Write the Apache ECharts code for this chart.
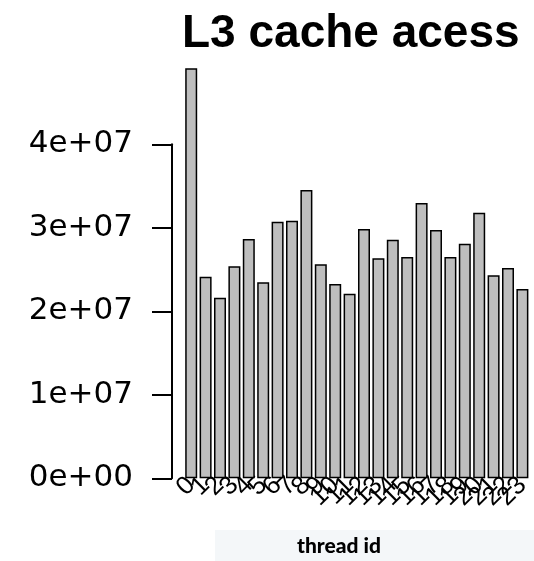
<!DOCTYPE html>
<html>
<head>
<meta charset="utf-8">
<script src="https://cdn.jsdelivr.net/npm/echarts@6/dist/echarts.min.js"></script>
<style>
  html, body { margin: 0; padding: 0; background: #ffffff; }
  #chart { width: 534px; height: 561px; }
</style>
</head>
<body>
<div id="chart"></div>
<script>
// Thread ids on the x axis
const threadIds = ['0','1','2','3','4','5','6','7','8','9','10','11','12','13','14','15','16','17','18','19','20','21','22','23'];
// L3 cache accesses per thread
const accesses = [49100000, 24140000, 21630000, 25390000, 28660000, 23470000, 30730000, 30850000,
                  34530000, 25630000, 23270000, 22110000, 29860000, 26350000, 28570000, 26500000,
                  32970000, 29740000, 26500000, 28100000, 31810000, 24310000, 25190000, 22670000];
// Value axis range and step
const yMin = 0;
const yMax = 40000000;
const yStep = 10000000;

// R-style scientific labels: 4e+07, 0e+00
function sci(v) {
  if (v === 0) return '0e+00';
  const e = Math.floor(Math.log10(v));
  const m = Math.round(v / Math.pow(10, e));
  return m + 'e+' + String(e).padStart(2, '0');
}

const chart = echarts.init(document.getElementById('chart'), null, { renderer: 'canvas' });
chart.setOption({
  animation: false,
  backgroundColor: '#ffffff',
  title: [
    {
      text: 'L3 cache acess',
      left: 177,
      top: 6,
      textStyle: { fontFamily: 'Liberation Sans', fontWeight: 'bold', fontSize: 46, color: '#000' }
    },
    {
      text: 'thread id',
      left: 215,
      top: 530,
      padding: [6, 160, 12, 82],
      backgroundColor: '#f4f7f9',
      textStyle: { fontFamily: 'Lato', fontWeight: 900, fontSize: 21, color: '#000' }
    }
  ],
  grid: { left: 184, right: 4.4, top: 144.3, bottom: 82.7, containLabel: false },
  xAxis: {
    type: 'category',
    data: threadIds,
    axisLine: { show: false },
    axisTick: { show: false },
    axisLabel: {
      interval: 0,
      rotate: 45,
      margin: 3,
      fontFamily: 'Liberation Sans',
      fontSize: 26,
      color: '#000'
    }
  },
  yAxis: {
    type: 'value',
    min: yMin,
    max: yMax,
    interval: yStep,
    offset: 12,
    splitLine: { show: false },
    axisLine: { show: true, lineStyle: { color: '#000', width: 2 } },
    axisTick: { show: true, length: 20, lineStyle: { color: '#000', width: 2 } },
    axisLabel: {
      margin: 39,
      formatter: sci,
      fontFamily: 'DejaVu Sans',
      fontSize: 31,
      color: '#000'
    }
  },
  series: [{
    type: 'bar',
    data: accesses,
    barWidth: 12,
    clip: false,
    itemStyle: { color: '#bebebe', borderColor: '#000', borderWidth: 1.5 }
  }]
});
</script>
</body>
</html>
